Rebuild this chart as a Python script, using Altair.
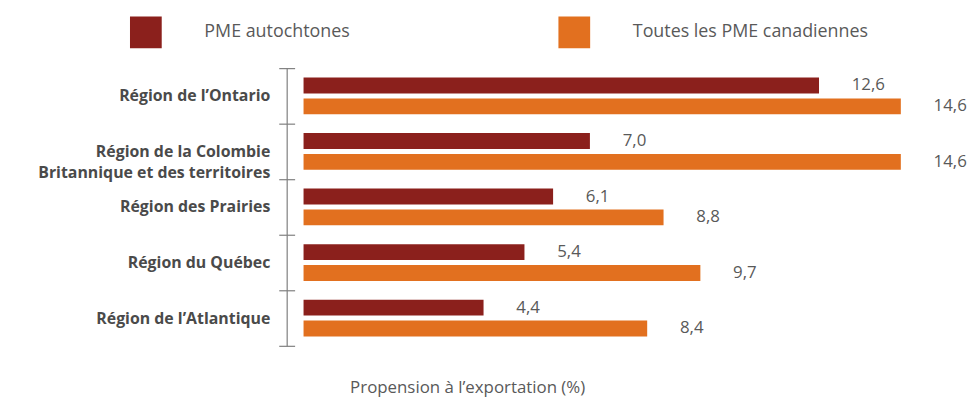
import altair as alt
import pandas as pd

regions = [
    "Région de l’Ontario",
    "Région de la Colombie|Britannique et des territoires",
    "Région des Prairies",
    "Région du Québec",
    "Région de l’Atlantique",
]
series = ["PME autochtones", "Toutes les PME canadiennes"]
autochtones = [12.6, 7.0, 6.1, 5.4, 4.4]
canadiennes = [14.6, 14.6, 8.8, 9.7, 8.4]
colors = ["#8B201C", "#E2701F"]

rows = []
for r, a, c in zip(regions, autochtones, canadiennes):
    rows.append({"region": r, "serie": series[0], "value": a})
    rows.append({"region": r, "serie": series[1], "value": c})
df = pd.DataFrame(rows)

FONT = "Open Sans"
GREY = "#595959"

base = alt.Chart(df).transform_calculate(
    label="replace(format(datum.value, '.1f'), '.', ',')"
)

x = alt.X(
    "value:Q",
    scale=alt.Scale(domain=[0, 16], nice=False, zero=True),
    axis=alt.Axis(
        title="Propension à l’exportation (%)",
        labels=False, ticks=False, domain=False, grid=False,
        titleX=165, titleY=34, titleFontSize=17, titleFontWeight="normal",
        titleColor=GREY, titleFont=FONT,
    ),
)

yscale = alt.Scale(paddingInner=0, paddingOuter=0)
yoff = alt.YOffset("serie:N", sort=series,
                   scale=alt.Scale(paddingInner=0.238, paddingOuter=0.45))
color = alt.Color(
    "serie:N",
    scale=alt.Scale(domain=series, range=colors),
    legend=alt.Legend(
        orient="none", legendX=-175, legendY=-52, direction="horizontal",
        title=None, symbolType="square", symbolSize=1024, symbolStrokeWidth=0,
        labelOffset=43, labelFontSize=18, labelFont=FONT, labelColor=GREY,
        labelLimit=500, columnPadding=210, padding=0,
    ),
)

bars = base.mark_bar().encode(
    x=x,
    y=alt.Y(
        "region:N", sort=regions, scale=yscale,
        axis=alt.Axis(
            orient="left", offset=9, domain=False, tickBand="extent",
            tickSize=16, tickColor="#7f7f7f", tickWidth=1.2,
            labelExpr="split(datum.label, '|')", labelFont=FONT,
            labelFontWeight="bold", labelFontSize=16, labelColor="#4a4a4a",
            labelPadding=9, labelLineHeight=21, labelLimit=500,
            title=None, grid=False,
        ),
    ),
    yOffset=yoff,
    color=color,
)

text = base.mark_text(align="left", dx=33, fontSize=17, font=FONT, color=GREY).encode(
    x=x,
    y=alt.Y(
        "region:N", sort=regions, scale=yscale,
        axis=alt.Axis(
            orient="left", offset=17, domain=True, domainColor="#7f7f7f",
            domainWidth=1.2, ticks=False, labels=False, title=None, grid=False,
        ),
    ),
    yOffset=yoff,
    text="label:N",
)

chart = (
    alt.layer(bars, text)
    .resolve_axis(y="independent")
    .properties(
        width=660, height=280,
        autosize=alt.AutoSizeParams(type="none"),
        padding={"left": 298, "top": 59, "right": 13, "bottom": 53},
    )
    .configure_view(stroke=None)
)

chart.save("out.html", embed_options={"renderer": "svg", "actions": False})
